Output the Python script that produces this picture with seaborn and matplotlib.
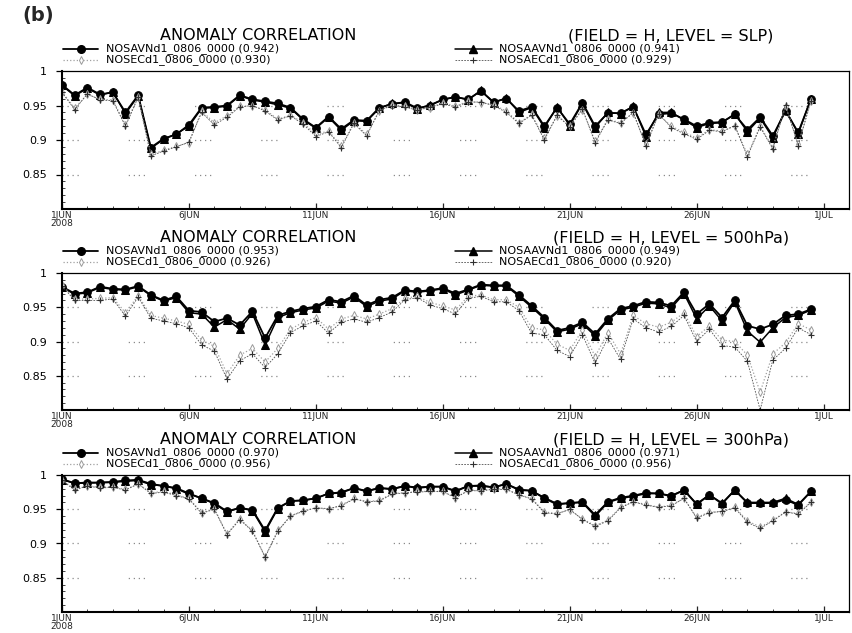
import numpy as np
import pandas as pd
import matplotlib
matplotlib.use("Agg")
import matplotlib.pyplot as plt
from matplotlib.lines import Line2D
import seaborn as sns

# ---- data: 12-hourly anomaly correlation, 1 Jun 00Z .. 30 Jun 12Z 2008 ----
days = np.arange(60) * 0.5

# SLP
slp_avn = [0.980, 0.965, 0.976, 0.966, 0.969, 0.940, 0.965, 0.889, 0.902, 0.908,
           0.922, 0.947, 0.948, 0.950, 0.965, 0.959, 0.956, 0.953, 0.947, 0.930,
           0.918, 0.934, 0.916, 0.929, 0.928, 0.947, 0.952, 0.955, 0.946, 0.950,
           0.959, 0.962, 0.959, 0.971, 0.955, 0.960, 0.942, 0.948, 0.920, 0.947,
           0.923, 0.954, 0.920, 0.939, 0.939, 0.948, 0.908, 0.937, 0.939, 0.930,
           0.920, 0.925, 0.926, 0.937, 0.915, 0.933, 0.906, 0.942, 0.911, 0.959]
slp_aavn = [0.979, 0.964, 0.975, 0.965, 0.970, 0.938, 0.964, 0.888, 0.901, 0.909,
            0.920, 0.946, 0.947, 0.949, 0.964, 0.958, 0.955, 0.951, 0.946, 0.929,
            0.917, 0.933, 0.914, 0.928, 0.927, 0.946, 0.953, 0.954, 0.945, 0.951,
            0.958, 0.963, 0.958, 0.972, 0.954, 0.961, 0.940, 0.947, 0.918, 0.948,
            0.921, 0.953, 0.918, 0.940, 0.938, 0.949, 0.905, 0.940, 0.940, 0.929,
            0.918, 0.924, 0.925, 0.938, 0.912, 0.932, 0.903, 0.944, 0.909, 0.960]
slp_sec = [0.970, 0.946, 0.966, 0.959, 0.958, 0.922, 0.963, 0.879, 0.885, 0.891,
           0.896, 0.942, 0.925, 0.935, 0.949, 0.949, 0.944, 0.930, 0.936, 0.925,
           0.908, 0.913, 0.891, 0.925, 0.908, 0.942, 0.951, 0.949, 0.944, 0.947,
           0.954, 0.949, 0.956, 0.954, 0.951, 0.942, 0.925, 0.937, 0.903, 0.935,
           0.920, 0.944, 0.898, 0.930, 0.925, 0.939, 0.894, 0.937, 0.920, 0.911,
           0.903, 0.915, 0.913, 0.920, 0.879, 0.920, 0.889, 0.949, 0.894, 0.956]
slp_saec = [0.969, 0.944, 0.967, 0.958, 0.957, 0.920, 0.962, 0.877, 0.884, 0.890,
            0.897, 0.940, 0.922, 0.933, 0.948, 0.950, 0.942, 0.929, 0.935, 0.923,
            0.905, 0.912, 0.889, 0.924, 0.906, 0.943, 0.950, 0.948, 0.943, 0.948,
            0.952, 0.948, 0.955, 0.955, 0.950, 0.940, 0.924, 0.936, 0.900, 0.936,
            0.919, 0.945, 0.896, 0.929, 0.924, 0.940, 0.891, 0.938, 0.918, 0.909,
            0.901, 0.914, 0.912, 0.921, 0.876, 0.919, 0.887, 0.951, 0.892, 0.957]

# 500 hPa height
h500_avn = [0.980, 0.970, 0.972, 0.980, 0.977, 0.976, 0.981, 0.968, 0.960, 0.966,
            0.945, 0.943, 0.929, 0.934, 0.924, 0.944, 0.905, 0.938, 0.944, 0.948,
            0.951, 0.961, 0.958, 0.967, 0.953, 0.961, 0.964, 0.975, 0.973, 0.975,
            0.978, 0.970, 0.976, 0.983, 0.982, 0.982, 0.968, 0.952, 0.935, 0.916,
            0.920, 0.928, 0.911, 0.933, 0.948, 0.952, 0.958, 0.957, 0.952, 0.972,
            0.940, 0.955, 0.935, 0.960, 0.923, 0.918, 0.925, 0.938, 0.940, 0.947]
h500_aavn = [0.979, 0.969, 0.971, 0.979, 0.976, 0.975, 0.980, 0.967, 0.959, 0.964,
             0.942, 0.940, 0.921, 0.932, 0.918, 0.941, 0.895, 0.935, 0.942, 0.946,
             0.949, 0.959, 0.956, 0.965, 0.951, 0.959, 0.962, 0.974, 0.972, 0.974,
             0.977, 0.968, 0.975, 0.982, 0.981, 0.981, 0.966, 0.950, 0.933, 0.914,
             0.918, 0.926, 0.908, 0.931, 0.946, 0.950, 0.956, 0.955, 0.949, 0.970,
             0.933, 0.952, 0.930, 0.958, 0.915, 0.899, 0.920, 0.935, 0.938, 0.946]
h500_sec = [0.983, 0.962, 0.962, 0.963, 0.964, 0.942, 0.967, 0.938, 0.934, 0.930,
            0.925, 0.902, 0.893, 0.853, 0.880, 0.890, 0.870, 0.890, 0.918, 0.928,
            0.935, 0.918, 0.933, 0.938, 0.933, 0.940, 0.948, 0.963, 0.966, 0.957,
            0.952, 0.946, 0.966, 0.968, 0.961, 0.961, 0.950, 0.920, 0.917, 0.896,
            0.887, 0.917, 0.878, 0.913, 0.882, 0.938, 0.926, 0.921, 0.928, 0.942,
            0.907, 0.923, 0.902, 0.900, 0.880, 0.826, 0.882, 0.898, 0.926, 0.917]
h500_saec = [0.981, 0.960, 0.960, 0.960, 0.962, 0.937, 0.965, 0.934, 0.930, 0.926,
             0.920, 0.895, 0.886, 0.845, 0.872, 0.882, 0.862, 0.882, 0.913, 0.923,
             0.930, 0.912, 0.928, 0.933, 0.928, 0.935, 0.943, 0.961, 0.964, 0.953,
             0.948, 0.940, 0.963, 0.966, 0.958, 0.958, 0.945, 0.912, 0.910, 0.887,
             0.878, 0.910, 0.868, 0.905, 0.874, 0.933, 0.920, 0.914, 0.922, 0.938,
             0.900, 0.918, 0.894, 0.892, 0.871, 0.800, 0.873, 0.890, 0.920, 0.910]

# 300 hPa height
h300_avn = [0.994, 0.988, 0.989, 0.989, 0.990, 0.992, 0.993, 0.987, 0.984, 0.981,
            0.973, 0.966, 0.959, 0.947, 0.952, 0.949, 0.919, 0.952, 0.962, 0.963,
            0.966, 0.973, 0.974, 0.981, 0.976, 0.981, 0.979, 0.984, 0.981, 0.983,
            0.983, 0.976, 0.984, 0.984, 0.982, 0.987, 0.978, 0.977, 0.966, 0.957,
            0.959, 0.960, 0.940, 0.960, 0.966, 0.969, 0.973, 0.973, 0.969, 0.978,
            0.957, 0.971, 0.958, 0.978, 0.959, 0.959, 0.959, 0.964, 0.956, 0.976]
h300_aavn = [0.993, 0.988, 0.988, 0.989, 0.989, 0.991, 0.992, 0.986, 0.984, 0.980,
             0.972, 0.966, 0.958, 0.946, 0.952, 0.948, 0.917, 0.951, 0.962, 0.963,
             0.966, 0.973, 0.975, 0.981, 0.977, 0.981, 0.980, 0.984, 0.982, 0.983,
             0.983, 0.977, 0.984, 0.985, 0.982, 0.987, 0.979, 0.977, 0.967, 0.958,
             0.959, 0.961, 0.942, 0.961, 0.967, 0.970, 0.974, 0.973, 0.970, 0.978,
             0.958, 0.971, 0.959, 0.978, 0.960, 0.960, 0.960, 0.966, 0.957, 0.976]
h300_sec = [0.993, 0.979, 0.984, 0.982, 0.983, 0.979, 0.987, 0.974, 0.976, 0.971,
            0.966, 0.945, 0.951, 0.914, 0.936, 0.919, 0.881, 0.919, 0.940, 0.948,
            0.952, 0.950, 0.956, 0.966, 0.961, 0.963, 0.973, 0.974, 0.976, 0.976,
            0.976, 0.966, 0.978, 0.977, 0.980, 0.979, 0.971, 0.966, 0.946, 0.944,
            0.949, 0.936, 0.926, 0.934, 0.953, 0.961, 0.957, 0.953, 0.956, 0.966,
            0.938, 0.946, 0.946, 0.953, 0.933, 0.924, 0.934, 0.946, 0.944, 0.961]
h300_saec = [0.992, 0.978, 0.984, 0.981, 0.982, 0.978, 0.987, 0.973, 0.975, 0.970,
             0.965, 0.944, 0.950, 0.913, 0.935, 0.918, 0.880, 0.918, 0.940, 0.947,
             0.952, 0.951, 0.955, 0.965, 0.961, 0.962, 0.972, 0.974, 0.975, 0.976,
             0.976, 0.967, 0.977, 0.977, 0.979, 0.979, 0.971, 0.965, 0.945, 0.943,
             0.950, 0.935, 0.925, 0.933, 0.952, 0.961, 0.956, 0.953, 0.955, 0.966,
             0.937, 0.945, 0.947, 0.952, 0.931, 0.922, 0.933, 0.946, 0.943, 0.960]

series_names = ["NOSAVNd1_0806_0000", "NOSAAVNd1_0806_0000",
                "NOSECd1_0806_0000", "NOSAECd1_0806_0000"]
panel_levels = ["SLP", "500hPa", "300hPa"]
panel_scores = [[0.942, 0.941, 0.930, 0.929],
                [0.953, 0.949, 0.926, 0.920],
                [0.970, 0.971, 0.956, 0.956]]
panel_values = [[slp_avn, slp_aavn, slp_sec, slp_saec],
                [h500_avn, h500_aavn, h500_sec, h500_saec],
                [h300_avn, h300_aavn, h300_sec, h300_saec]]

tick_days = [0, 5, 10, 15, 20, 25, 30]
tick_labels = ["1JUN\n2008", "6JUN", "11JUN", "16JUN", "21JUN", "26JUN", "1JUL"]
ytick_vals = [0.85, 0.9, 0.95, 1.0]
ytick_labels = ["0.85", "0.9", "0.95", "1"]

# ---- styles ----
styles = [
    dict(color="black", marker="o", markersize=5.5, linewidth=1.3, linestyle="-",
         markeredgecolor="black", markerfacecolor="black"),
    dict(color="black", marker="^", markersize=5.5, linewidth=1.1, linestyle="-",
         markeredgecolor="black", markerfacecolor="black"),
    dict(color="#a0a0a0", marker="d", markersize=4, linewidth=0.9, linestyle=":",
         markeredgecolor="#9a9a9a", markerfacecolor="white", markeredgewidth=0.7),
    dict(color="#505050", marker="+", markersize=5, linewidth=0.6, linestyle=(0, (2, 1.5)),
         markeredgecolor="#303030", markeredgewidth=0.8),
]

sns.set_theme(style="white")
plt.rcParams["font.family"] = ["DejaVu Sans"]

W, H = 853, 633
fig = plt.figure(figsize=(W / 100, H / 100), dpi=100)


def fx(px):
    return px / W


def fy(py):
    return 1 - py / H


axes_px = [(71, 209), (273, 410), (475, 612)]
left_px, right_px = 62, 849

grid_dash = (0, (1, 3, 1, 3, 1, 3, 1, 40))

for k, (top, bot) in enumerate(axes_px):
    ax = fig.add_axes([fx(left_px), fy(bot), fx(right_px - left_px), (bot - top) / H])
    ax.set_facecolor("white")
    for yv in [0.85, 0.9, 0.95]:
        ax.axhline(yv, color="#8a8a8a", lw=0.9, linestyle=grid_dash, zorder=0)

    for vals, st in zip(panel_values[k], styles):
        df = pd.DataFrame({"day": days, "ac": vals})
        sns.lineplot(data=df, x="day", y="ac", ax=ax, **st)

    ax.set_xlim(0, 31)
    ax.set_ylim(0.8, 1.0)
    ax.set_xlabel("")
    ax.set_ylabel("")
    ax.set_xticks(tick_days)
    ax.set_xticklabels(tick_labels, fontsize=6.5, linespacing=0.8)
    ax.set_xticks(np.arange(0, 31, 1), minor=True)
    ax.set_yticks(ytick_vals)
    ax.set_yticklabels(ytick_labels, fontsize=8)
    ax.set_yticks(np.arange(0.8, 1.0, 0.01), minor=True)
    ax.tick_params(axis="y", which="major", direction="out", length=4, width=0.9,
                   pad=7, colors="black", left=True)
    ax.tick_params(axis="y", which="minor", direction="in", length=2, width=0.6, left=True)
    ax.tick_params(axis="x", which="major", direction="in", length=4, width=0.9,
                   pad=1.5, bottom=True)
    ax.tick_params(axis="x", which="minor", direction="in", length=2, width=0.6, bottom=True)
    for s in ax.spines.values():
        s.set_visible(True)
        s.set_color("black")
        s.set_linewidth(0.9)
    ax.spines["left"].set_linewidth(1.5)
    ax.spines["bottom"].set_linewidth(1.5)

    # titles
    fig.text(fx(258), fy(top - 35), "ANOMALY CORRELATION", fontsize=11.5,
             ha="center", va="center", color="black")
    fig.text(fx(671), fy(top - 35), f"(FIELD = H, LEVEL = {panel_levels[k]})",
             fontsize=11.5, ha="center", va="center", color="black")

    # legend entries: two rows, two columns
    slots = [(63, 98, 106, top - 22), (455, 492, 499, top - 22),
             (63, 98, 106, top - 11), (455, 492, 499, top - 11)]
    for (x0, x1, xt, yr), st, name, score in zip(slots, styles, series_names, panel_scores[k]):
        ln = Line2D([fx(x0), fx((x0 + x1) / 2), fx(x1)], [fy(yr)] * 3,
                    transform=fig.transFigure, markevery=[1], **st)
        fig.add_artist(ln)
        fig.text(fx(xt), fy(yr), f"{name} ({score:.3f})", fontsize=8,
                 ha="left", va="center", color="black")

fig.text(fx(22), fy(15), "(b)", fontsize=14, fontweight="bold", ha="left", va="center")

fig.savefig("out.png", dpi=100)
